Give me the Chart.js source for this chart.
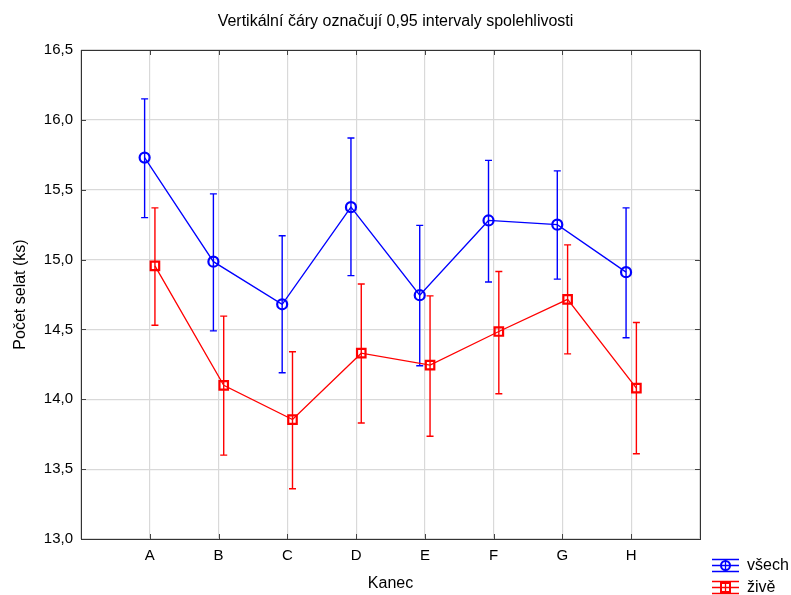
<!DOCTYPE html>
<html>
<head>
<meta charset="utf-8">
<script src="https://cdn.jsdelivr.net/npm/chart.js@4/dist/chart.umd.min.js"></script>
<style>
html,body{margin:0;padding:0;background:#fff;}
#wrap{width:791px;height:595px;position:relative;}
</style>
</head>
<body>
<div id="wrap"><canvas id="c" width="791" height="595"></canvas></div>
<script>
const TITLE = 'Vertikální čáry označují 0,95 intervaly spolehlivosti';
const X_TITLE = 'Kanec';
const Y_TITLE = 'Počet selat (ks)';
const CATEGORIES = ['A', 'B', 'C', 'D', 'E', 'F', 'G', 'H'];
const SERIES_NAMES = ['všech', 'živě'];
const VSECH_MEAN = [15.73, 14.985, 14.68, 15.375, 14.745, 15.28, 15.25, 14.91];
const VSECH_LOW  = [15.30, 14.49, 14.19, 14.885, 14.24, 14.84, 14.86, 14.44];
const VSECH_HIGH = [16.15, 15.47, 15.17, 15.87, 15.245, 15.71, 15.635, 15.37];
const ZIVE_MEAN  = [14.955, 14.10, 13.855, 14.33, 14.245, 14.485, 14.715, 14.08];
const ZIVE_LOW   = [14.53, 13.60, 13.36, 13.83, 13.735, 14.04, 14.325, 13.61];
const ZIVE_HIGH  = [15.37, 14.595, 14.34, 14.825, 14.74, 14.915, 15.105, 14.55];
const Y_MIN = 13.0, Y_MAX = 16.5, Y_STEP = 0.5;

const BLUE = '#0000ff', RED = '#ff0000';
const DODGE = 0.075;
const FONT = "'Liberation Sans', Arial, sans-serif";

function pts(means, lows, highs, shift) {
  return means.map((m, i) => ({x: i + 1 + shift, y: m, lo: lows[i], hi: highs[i]}));
}

const errorBars = {
  id: 'errorBars',
  beforeDatasetsDraw(chart) {
    const ctx = chart.ctx, xs = chart.scales.x, ys = chart.scales.y;
    chart.data.datasets.forEach(ds => {
      ctx.save();
      ctx.strokeStyle = ds.borderColor;
      ctx.lineWidth = 1.4;
      ds.data.forEach(p => {
        const x = xs.getPixelForValue(p.x);
        const y1 = ys.getPixelForValue(p.lo), y2 = ys.getPixelForValue(p.hi);
        ctx.beginPath();
        ctx.moveTo(x, y1); ctx.lineTo(x, y2);
        ctx.moveTo(x - 3.5, y1); ctx.lineTo(x + 3.5, y1);
        ctx.moveTo(x - 3.5, y2); ctx.lineTo(x + 3.5, y2);
        ctx.stroke();
      });
      ctx.restore();
    });
  },
  afterDraw(chart) {
    const ctx = chart.ctx, a = chart.chartArea, xs = chart.scales.x, ys = chart.scales.y;
    ctx.save();
    // title, centred on the whole canvas
    ctx.fillStyle = '#000';
    ctx.font = '16px ' + FONT;
    ctx.textAlign = 'center';
    ctx.textBaseline = 'middle';
    ctx.fillText(TITLE, chart.width / 2, 22);
    // inner tick marks
    ctx.strokeStyle = '#444';
    ctx.lineWidth = 1;
    ctx.beginPath();
    for (let i = 1; i <= CATEGORIES.length; i++) {
      const x = Math.round(xs.getPixelForValue(i)) + 0.5;
      ctx.moveTo(x, a.top); ctx.lineTo(x, a.top + 5);
      ctx.moveTo(x, a.bottom); ctx.lineTo(x, a.bottom - 5);
    }
    for (let v = Y_MIN + Y_STEP; v < Y_MAX - 1e-9; v += Y_STEP) {
      const y = Math.round(ys.getPixelForValue(v)) + 0.5;
      ctx.moveTo(a.left, y); ctx.lineTo(a.left + 5, y);
      ctx.moveTo(a.right, y); ctx.lineTo(a.right - 5, y);
    }
    ctx.stroke();
    // frame
    ctx.strokeStyle = '#333';
    ctx.strokeRect(Math.round(a.left) + 0.5, Math.round(a.top) + 0.5,
                   Math.round(a.right - a.left), Math.round(a.bottom - a.top));
    // legend
    const items = chart.data.datasets;
    const lx = 712, lw = 27;
    items.forEach((ds, k) => {
      const cy = 565 + k * 22;
      ctx.strokeStyle = ds.borderColor;
      ctx.lineWidth = 1.3;
      ctx.beginPath();
      ctx.moveTo(lx, cy - 5.5); ctx.lineTo(lx + lw, cy - 5.5);
      ctx.moveTo(lx, cy + 0.5); ctx.lineTo(lx + lw, cy + 0.5);
      ctx.moveTo(lx, cy + 6.5); ctx.lineTo(lx + lw, cy + 6.5);
      ctx.moveTo(lx + lw / 2, cy - 5.5); ctx.lineTo(lx + lw / 2, cy + 6.5);
      ctx.stroke();
      ctx.lineWidth = 2;
      ctx.beginPath();
      if (ds.pointStyle === 'circle') {
        ctx.arc(lx + lw / 2, cy + 0.5, 4.5, 0, Math.PI * 2);
      } else {
        ctx.rect(lx + lw / 2 - 4.5, cy + 0.5 - 4.5, 9, 9);
      }
      ctx.stroke();
      ctx.fillStyle = '#000';
      ctx.font = '16px ' + FONT;
      ctx.textBaseline = 'middle';
      ctx.textAlign = 'left';
      ctx.fillText(ds.label, 747, cy + 1);
    });
    ctx.restore();
  }
};

new Chart(document.getElementById('c'), {
  type: 'scatter',
  data: {
    datasets: [
      {
        label: SERIES_NAMES[0],
        data: pts(VSECH_MEAN, VSECH_LOW, VSECH_HIGH, -DODGE),
        showLine: true,
        borderColor: BLUE,
        backgroundColor: 'rgba(0,0,0,0)',
        borderWidth: 1.3,
        pointStyle: 'circle',
        pointRadius: 5,
        pointBorderWidth: 2.2,
        pointBorderColor: BLUE,
        pointBackgroundColor: 'rgba(0,0,0,0)'
      },
      {
        label: SERIES_NAMES[1],
        data: pts(ZIVE_MEAN, ZIVE_LOW, ZIVE_HIGH, DODGE),
        showLine: true,
        borderColor: RED,
        backgroundColor: 'rgba(0,0,0,0)',
        borderWidth: 1.3,
        pointStyle: 'rect',
        pointRadius: 6,
        pointBorderWidth: 2.2,
        pointBorderColor: RED,
        pointBackgroundColor: 'rgba(0,0,0,0)'
      }
    ]
  },
  options: {
    responsive: false,
    animation: false,
    layout: {padding: {left: 0, right: 91, top: 50, bottom: 0}},
    plugins: {
      legend: {display: false},
      tooltip: {enabled: false},
      title: {display: false}
    },
    scales: {
      x: {
        type: 'linear',
        min: 0,
        max: CATEGORIES.length + 1,
        afterFit(s) { s.height = 56; },
        afterBuildTicks(s) {
          s.ticks = [];
          for (let i = 0; i <= CATEGORIES.length + 1; i++) s.ticks.push({value: i});
        },
        ticks: {
          autoSkip: false,
          maxRotation: 0,
          color: '#000',
          padding: 8,
          font: {family: FONT, size: 15},
          callback: v => CATEGORIES[v - 1] || ''
        },
        grid: {color: '#d9d9d9', lineWidth: 1.2, drawTicks: false},
        border: {display: false},
        title: {
          display: true,
          text: X_TITLE,
          color: '#000',
          font: {family: FONT, size: 16},
          padding: {top: 0, bottom: 2}
        }
      },
      y: {
        min: Y_MIN,
        max: Y_MAX,
        afterFit(s) { s.width = 81; },
        ticks: {
          stepSize: Y_STEP,
          color: '#000',
          padding: 8,
          font: {family: FONT, size: 15},
          callback: v => v.toFixed(1).replace('.', ',')
        },
        grid: {color: '#d9d9d9', lineWidth: 1.2, drawTicks: false},
        border: {display: false},
        title: {
          display: true,
          text: Y_TITLE,
          color: '#000',
          font: {family: FONT, size: 16},
          padding: {top: 11, bottom: 0}
        }
      }
    }
  },
  plugins: [errorBars]
});
</script>
</body>
</html>
